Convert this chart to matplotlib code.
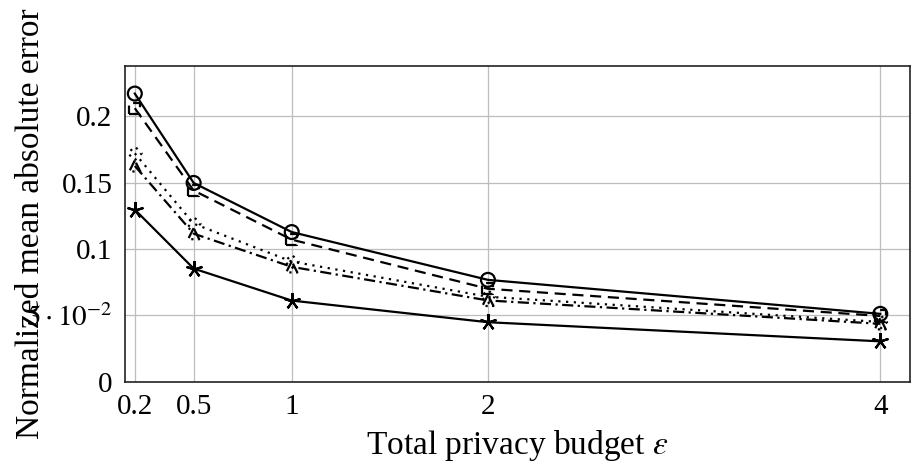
import matplotlib
matplotlib.use("Agg")
import matplotlib.pyplot as plt
import numpy as np

eps = [0.2, 0.5, 1, 2, 4]
s_circle = [0.217, 0.1497, 0.1127, 0.0767, 0.0511]
s_square = [0.206, 0.144, 0.1070, 0.0700, 0.0495]
s_dotted = [0.172, 0.119, 0.0905, 0.0640, 0.0450]
s_dashdot = [0.1625, 0.1115, 0.0865, 0.0612, 0.0436]
s_star = [0.1296, 0.0852, 0.0611, 0.0448, 0.0304]

xticks = [0.2, 0.5, 1, 2, 4]
xticklabels = ["0.2", "0.5", "1", "2", "4"]
yticks = [0, 0.05, 0.1, 0.15, 0.2]
yticklabels = ["0", r"$5\cdot10^{-2}$", "0.1", "0.15", "0.2"]

plt.rcParams['font.family'] = ['Liberation Serif', 'DejaVu Serif']
plt.rcParams['mathtext.fontset'] = 'stix'
FS = 21
LFS = 24

fig = plt.figure(figsize=(9.19, 4.76), dpi=100)
ax = fig.add_axes([125/919, 1-381.7/476, (909.7-125)/919, (381.7-65.7)/476])

series = [
    (s_circle, '-', 'o', 10),
    (s_square, (0, (5, 3)), 's', 8),
    (s_dotted, (0, (1, 2.5)), 'D', 7),
    (s_dashdot, (0, (5, 2, 1, 2)), '^', 8),
]
for ys, ls, mk, ms in series:
    ax.plot(eps, ys, color='black', lw=1.6, linestyle=ls, zorder=3)
    ax.scatter(eps, ys, marker=mk, s=ms**2, facecolors='none',
               edgecolors='black', linewidths=1.6, linestyles=[ls], zorder=4)

ax.plot(eps, s_star, color='black', lw=1.6, linestyle='-', marker=(5, 2, 0),
        markersize=12, markeredgewidth=1.6, markeredgecolor='black', zorder=4)

ax.set_xlim(0.15, 4.15)
ax.set_ylim(0, 0.238)
ax.set_xticks(xticks)
ax.set_xticklabels(xticklabels)
ax.set_yticks(yticks)
ax.set_yticklabels(yticklabels)
ax.tick_params(axis='both', length=0, pad=9, labelsize=FS)
ax.grid(True, color='#bdbdbd', lw=0.9)
ax.set_axisbelow(True)
for sp in ax.spines.values():
    sp.set_color('#222222')
    sp.set_linewidth(1.2)

ax.set_xlabel(r"Total privacy budget $\epsilon$", fontsize=LFS)
ax.xaxis.set_label_coords(0.5, (381.7-428)/316)
ax.set_ylabel("Normalized mean absolute error", fontsize=LFS)
ax.yaxis.set_label_coords((46-125)/784.7, 0.5)

fig.savefig("out.png", dpi=100)
